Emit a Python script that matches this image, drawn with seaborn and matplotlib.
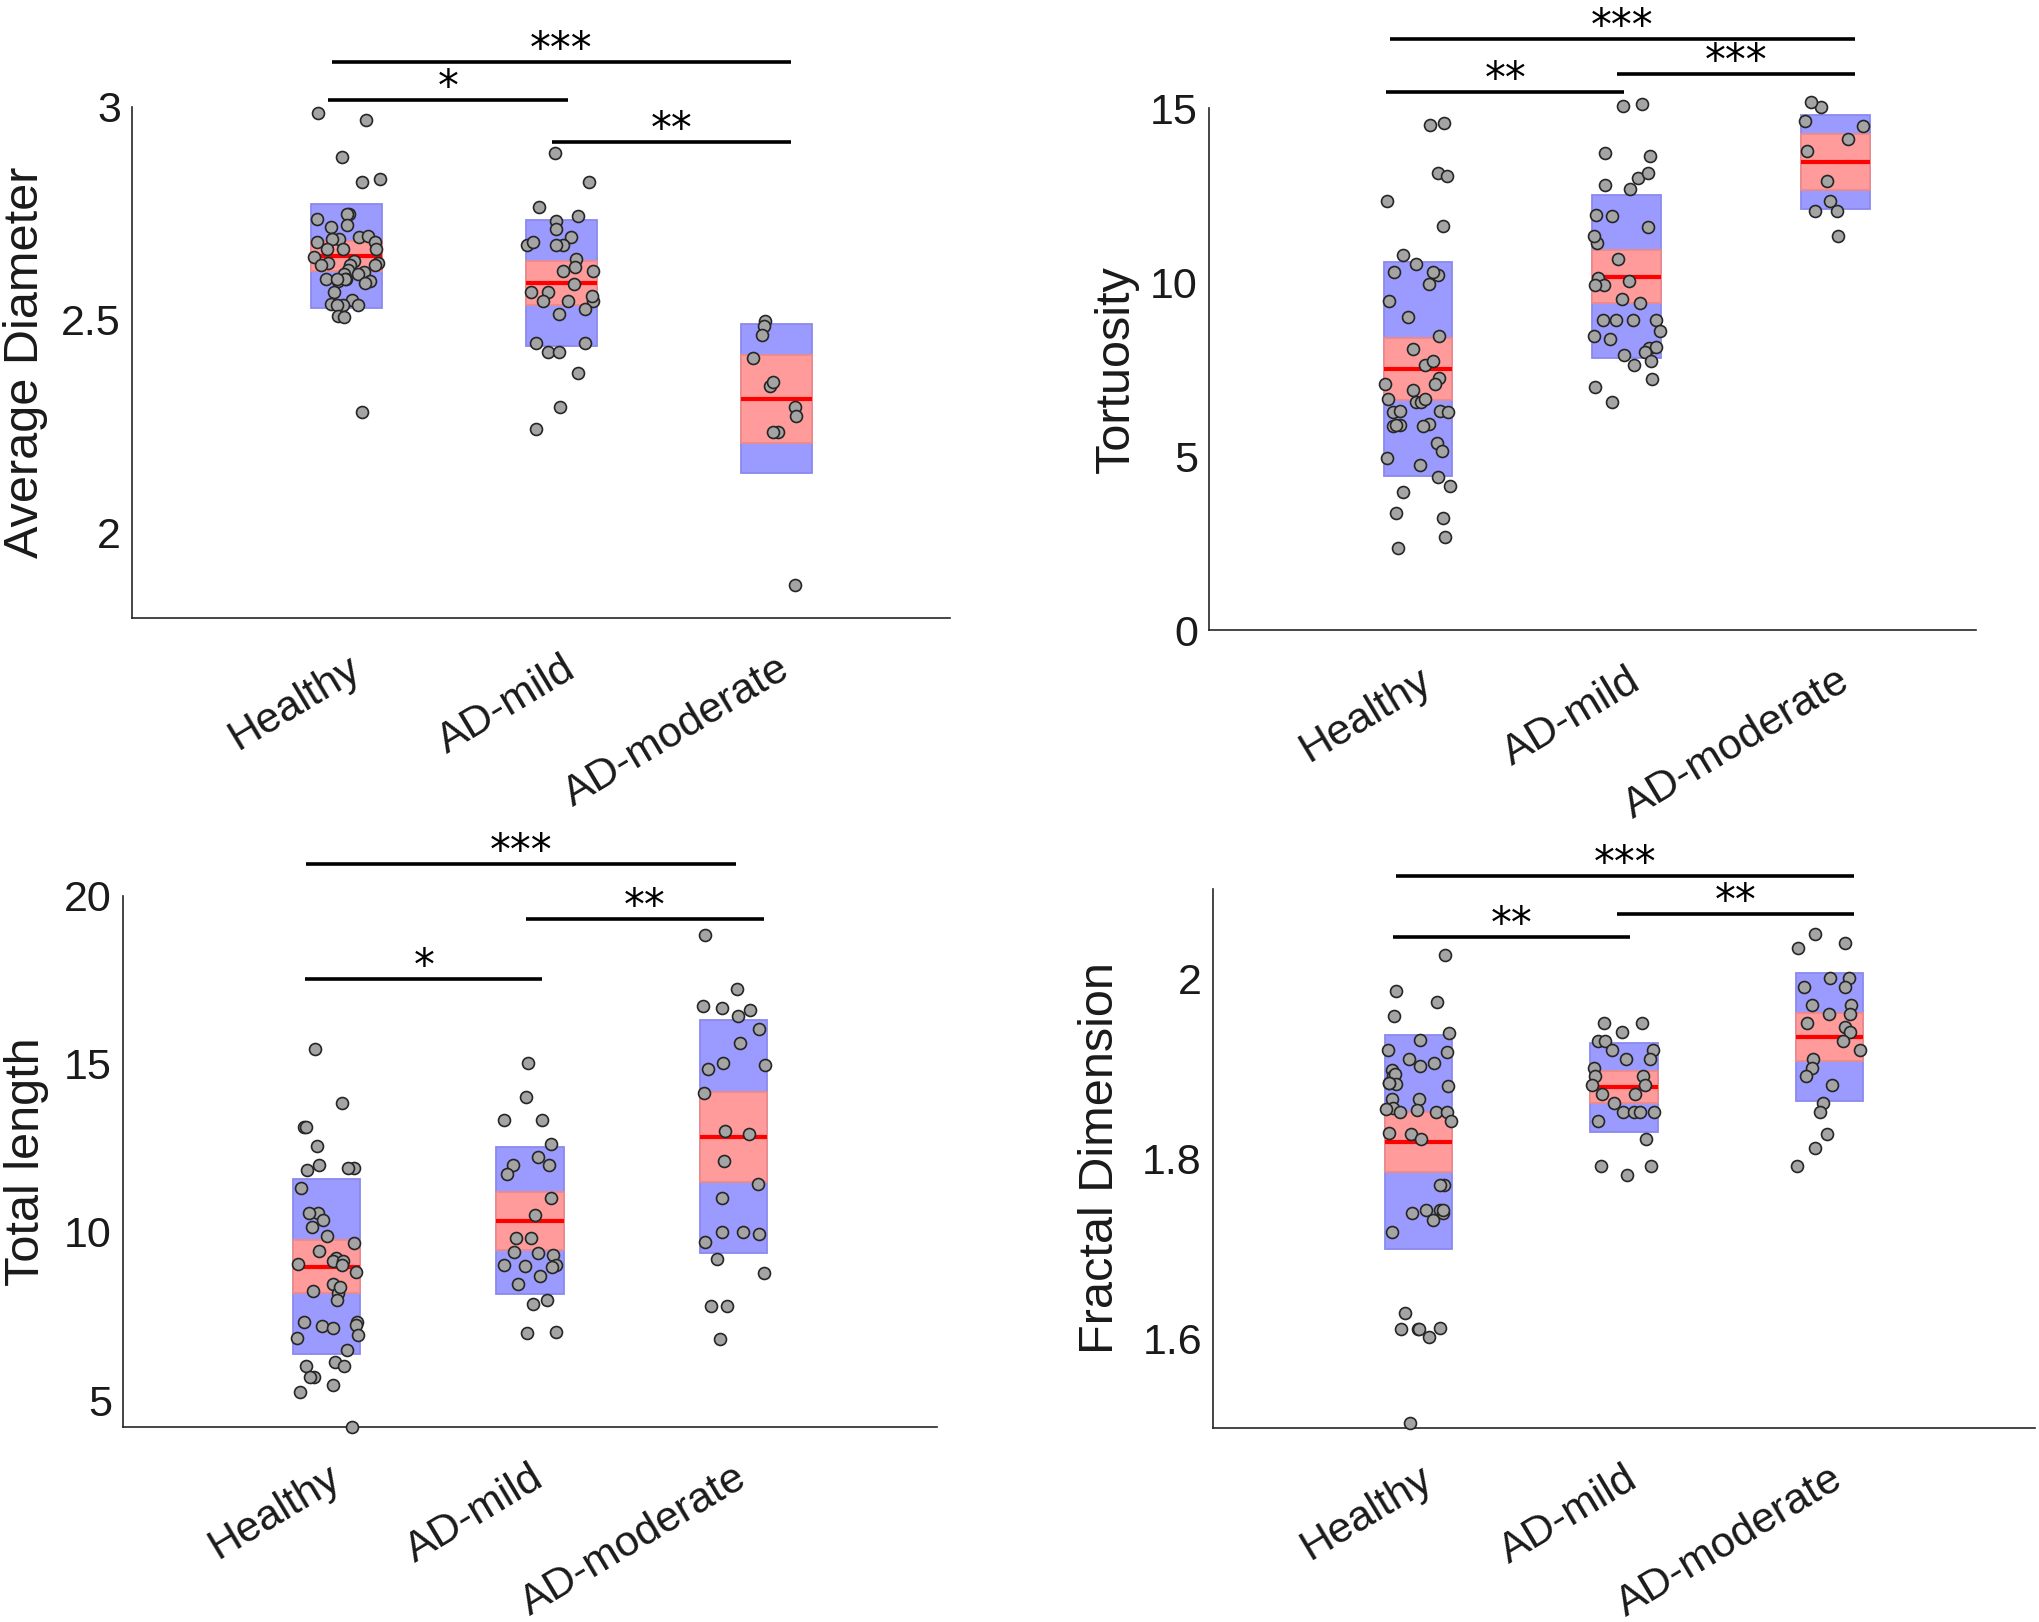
import numpy as np
import pandas as pd
import matplotlib
matplotlib.use("Agg")
import matplotlib.pyplot as plt
import seaborn as sns
from matplotlib.transforms import ScaledTranslation

groups = ["Healthy", "AD-mild", "AD-moderate"]

# ---------------- Panel 1: Average Diameter ----------------
diam_healthy = [2.987, 2.970, 2.883, 2.824, 2.830, 2.749, 2.749, 2.737, 2.719, 2.722,
                2.694, 2.698, 2.690, 2.683, 2.690, 2.683, 2.667, 2.667, 2.666, 2.648,
                2.638, 2.634, 2.634, 2.628, 2.628, 2.628, 2.617, 2.613, 2.607, 2.607,
                2.597, 2.596, 2.591, 2.597, 2.596, 2.591, 2.587, 2.566, 2.547, 2.537,
                2.535, 2.535, 2.535, 2.510, 2.506, 2.283]
diam_mild = [2.892, 2.824, 2.764, 2.743, 2.733, 2.714, 2.694, 2.675, 2.675, 2.675,
             2.684, 2.644, 2.614, 2.624, 2.614, 2.585, 2.565, 2.565, 2.545, 2.545,
             2.545, 2.555, 2.525, 2.514, 2.445, 2.445, 2.425, 2.425, 2.375, 2.296, 2.245]
diam_moderate = [2.498, 2.485, 2.464, 2.410, 2.345, 2.355, 2.296, 2.275, 2.236, 2.236, 1.877]
diam_mean = [2.650, 2.586, 2.315]
diam_sd = [0.1215, 0.1475, 0.1745]
diam_ci = [0.0355, 0.052, 0.1035]

# ---------------- Panel 2: Tortuosity ----------------
tort_healthy = [14.56, 14.50, 13.14, 13.06, 12.34, 11.62, 10.79, 10.53, 10.19, 10.29,
                10.30, 9.95, 9.45, 8.98, 8.45, 8.07, 7.62, 7.72, 7.23, 7.07,
                7.07, 6.89, 6.54, 6.63, 6.54, 6.63, 6.29, 6.26, 6.26, 6.29,
                5.93, 5.86, 5.88, 5.86, 5.88, 5.36, 5.14, 4.95, 4.73, 4.41,
                4.14, 3.96, 3.35, 3.22, 2.68, 2.36]
tort_mild = [15.07, 15.11, 13.61, 13.71, 12.99, 13.13, 12.66, 12.79, 11.92, 11.91,
             11.57, 11.12, 11.33, 10.65, 10.12, 9.90, 9.90, 10.03, 9.41, 9.50,
             8.92, 8.92, 8.92, 8.92, 8.60, 8.36, 8.44, 8.11, 8.13, 7.91,
             7.99, 7.74, 7.61, 7.22, 6.99, 6.54]
tort_moderate = [15.02, 15.17, 14.49, 14.63, 14.12, 13.76, 12.90, 12.34, 12.05, 12.05, 11.31]
tort_mean = [7.50, 10.15, 13.44]
tort_sd = [3.07, 2.34, 1.355]
tort_ci = [0.885, 0.76, 0.80]

# ---------------- Panel 3: Total length ----------------
len_healthy = [15.44, 13.84, 13.12, 13.12, 12.56, 12.00, 11.83, 11.89, 11.89, 11.29,
               10.55, 10.55, 10.35, 10.14, 9.89, 9.67, 9.44, 9.21, 9.12, 9.12,
               9.04, 9.02, 8.82, 8.44, 8.24, 8.17, 8.36, 7.98, 7.32, 7.32,
               7.24, 7.20, 7.14, 6.85, 6.94, 6.50, 6.14, 6.02, 6.02, 5.69,
               5.69, 5.46, 5.23, 4.19]
len_mild = [15.02, 14.02, 13.34, 13.34, 12.60, 12.24, 12.00, 12.00, 11.71, 11.00,
            10.51, 9.82, 9.82, 9.38, 9.40, 9.30, 9.00, 9.03, 8.95, 9.03,
            8.70, 8.44, 7.99, 7.86, 6.99, 7.03]
len_moderate = [18.83, 17.22, 16.67, 16.71, 16.59, 16.41, 16.02, 15.62, 15.02, 14.97,
                14.84, 14.14, 12.90, 13.01, 12.12, 11.42, 11.00, 9.93, 10.00, 10.00,
                9.71, 9.19, 8.78, 7.81, 7.81, 6.83]
len_mean = [8.96, 10.33, 12.83]
len_sd = [2.60, 2.19, 3.465]
len_ci = [0.785, 0.855, 1.34]

# ---------------- Panel 4: Fractal Dimension ----------------
fd_healthy = [2.026, 1.986, 1.974, 1.958, 1.939, 1.932, 1.921, 1.918, 1.911, 1.906,
              1.903, 1.898, 1.892, 1.894, 1.883, 1.884, 1.884, 1.880, 1.866, 1.866,
              1.856, 1.851, 1.852, 1.852, 1.854, 1.855, 1.842, 1.828, 1.827, 1.821,
              1.770, 1.770, 1.742, 1.739, 1.743, 1.739, 1.743, 1.731, 1.718, 1.628,
              1.610, 1.610, 1.611, 1.610, 1.601, 1.506]
fd_mild = [1.950, 1.950, 1.941, 1.930, 1.930, 1.921, 1.921, 1.911, 1.911, 1.901,
           1.891, 1.891, 1.881, 1.881, 1.871, 1.871, 1.862, 1.851, 1.851, 1.851,
           1.851, 1.841, 1.821, 1.791, 1.791, 1.781]
fd_moderate = [2.050, 2.040, 2.034, 2.001, 2.001, 1.991, 1.991, 1.970, 1.970, 1.960,
               1.960, 1.950, 1.946, 1.941, 1.930, 1.921, 1.911, 1.901, 1.891, 1.881,
               1.862, 1.851, 1.827, 1.811, 1.791]
fd_mean = [1.818, 1.879, 1.935]
fd_sd = [0.119, 0.0495, 0.071]
fd_ci = [0.0335, 0.018, 0.027]

# significance brackets: (x_start, x_end, y, label)
diam_sig = [(-0.07, 2.07, 3.105, "***"), (-0.085, 1.03, 3.017, "*"), (0.958, 2.07, 2.917, "**")]
tort_sig = [(-0.134, 2.09, 16.99, "***"), (-0.153, 0.988, 15.47, "**"), (0.95, 2.09, 15.98, "***")]
len_sig = [(-0.10, 2.01, 20.94, "***"), (0.98, 2.15, 19.30, "**"), (-0.104, 1.06, 17.52, "*")]
fd_sig = [(-0.11, 2.12, 2.114, "***"), (0.964, 2.12, 2.0715, "**"), (-0.126, 1.03, 2.046, "**")]

sns.set_theme(style="white")
plt.rcParams["font.family"] = ["Liberation Sans", "DejaVu Sans"]

fig = plt.figure(figsize=(20.4, 16.22), dpi=100)
W, H = 2040.0, 1622.0


def add_axes(left, right, top, bottom):
    return fig.add_axes([left / W, 1 - bottom / H, (right - left) / W, (bottom - top) / H])


panels = [
    dict(rect=(132, 950, 107, 618), data=[diam_healthy, diam_mild, diam_moderate],
         mean=diam_mean, sd=diam_sd, ci=diam_ci, ylabel="Average Diameter",
         ylim=(1.8, 3.0), yticks=[2, 2.5, 3], yticklabels=["2", "2.5", "3"],
         xlim=(-1, 2.81), sig=diam_sig, ylab_x=25),
    dict(rect=(1209, 1976, 108, 630), data=[tort_healthy, tort_mild, tort_moderate],
         mean=tort_mean, sd=tort_sd, ci=tort_ci, ylabel="Tortuosity",
         ylim=(0, 15), yticks=[0, 5, 10, 15], yticklabels=["0", "5", "10", "15"],
         xlim=(-1, 2.67), sig=tort_sig, ylab_x=1116),
    dict(rect=(123, 937, 895.5, 1427), data=[len_healthy, len_mild, len_moderate],
         mean=len_mean, sd=len_sd, ci=len_ci, ylabel="Total length",
         ylim=(4.2, 20), yticks=[5, 10, 15, 20], yticklabels=["5", "10", "15", "20"],
         xlim=(-1, 3.0), sig=len_sig, ylab_x=27),
    dict(rect=(1213, 2035, 888.6, 1428), data=[fd_healthy, fd_mild, fd_moderate],
         mean=fd_mean, sd=fd_sd, ci=fd_ci, ylabel="Fractal Dimension",
         ylim=(1.5, 2.1), yticks=[1.6, 1.8, 2.0], yticklabels=["1.6", "1.8", "2"],
         xlim=(-1, 3.0), sig=fd_sig, ylab_x=1101),
]

np.random.seed(7)
box_w = 0.33
for p in panels:
    left, right, top, bottom = p["rect"]
    ax = add_axes(left, right, top, bottom)
    df = pd.DataFrame({
        "group": np.repeat(groups, [len(v) for v in p["data"]]),
        "value": np.concatenate([np.asarray(v, float) for v in p["data"]]),
    })
    sns.stripplot(data=df, x="group", y="value", order=groups, jitter=0.16, size=8.6,
                  color="#a4a4a4", edgecolor="#262626", linewidth=1.2, ax=ax, zorder=5)
    for coll in ax.collections:
        coll.set_clip_on(False)
    pos = np.arange(len(groups))
    mean = np.asarray(p["mean"])
    sd = np.asarray(p["sd"])
    ci = np.asarray(p["ci"])
    ax.bar(pos, 2 * sd, bottom=mean - sd, width=box_w, color="#9b9bff",
           edgecolor="#8a8aee", linewidth=1.3, zorder=1)
    ax.bar(pos, 2 * ci, bottom=mean - ci, width=box_w, color="#ff9b9b",
           edgecolor="#ee8a8a", linewidth=1.3, zorder=2)
    ax.hlines(mean, pos - box_w / 2, pos + box_w / 2, color="#ff0000", lw=3.0, zorder=3)

    ax.set_xlim(*p["xlim"])
    ax.set_ylim(*p["ylim"])
    ax.set_yticks(p["yticks"])
    ax.set_yticklabels(p["yticklabels"])
    ax.set_xticks(pos)
    ax.set_xticklabels(groups, rotation=31, ha="right", va="top", rotation_mode="anchor",
                       fontsize=31, color="#1a1a1a")
    shift = ScaledTranslation(15 / 100.0, 0, fig.dpi_scale_trans)
    for lab in ax.get_xticklabels():
        lab.set_transform(lab.get_transform() + shift)
    ax.set_xlabel("")
    ax.set_ylabel(p["ylabel"], fontsize=35, color="#1a1a1a")
    ax.yaxis.set_label_coords((p["ylab_x"] - left) / (right - left), 0.5)
    ax.yaxis.label.set_va("center")

    ax.tick_params(axis="both", direction="in", length=7, width=1.1, color="#262626")
    ax.tick_params(axis="y", labelsize=31, pad=8, labelcolor="#1a1a1a")
    ax.tick_params(axis="x", pad=22)
    for s in ["top", "right"]:
        ax.spines[s].set_visible(False)
    for s in ["left", "bottom"]:
        ax.spines[s].set_color("#262626")
        ax.spines[s].set_linewidth(1.2)

    for x0, x1, y, txt in p["sig"]:
        ax.plot([x0, x1], [y, y], color="black", lw=2.6, clip_on=False,
                solid_capstyle="butt", zorder=6)
        ax.annotate(txt, xy=((x0 + x1) / 2, y), xytext=(0, 0.0), textcoords="offset points",
                    ha="center", va="baseline", fontsize=30, family="DejaVu Sans",
                    color="black", annotation_clip=False)

fig.savefig("out.png", dpi=100, facecolor="white")
